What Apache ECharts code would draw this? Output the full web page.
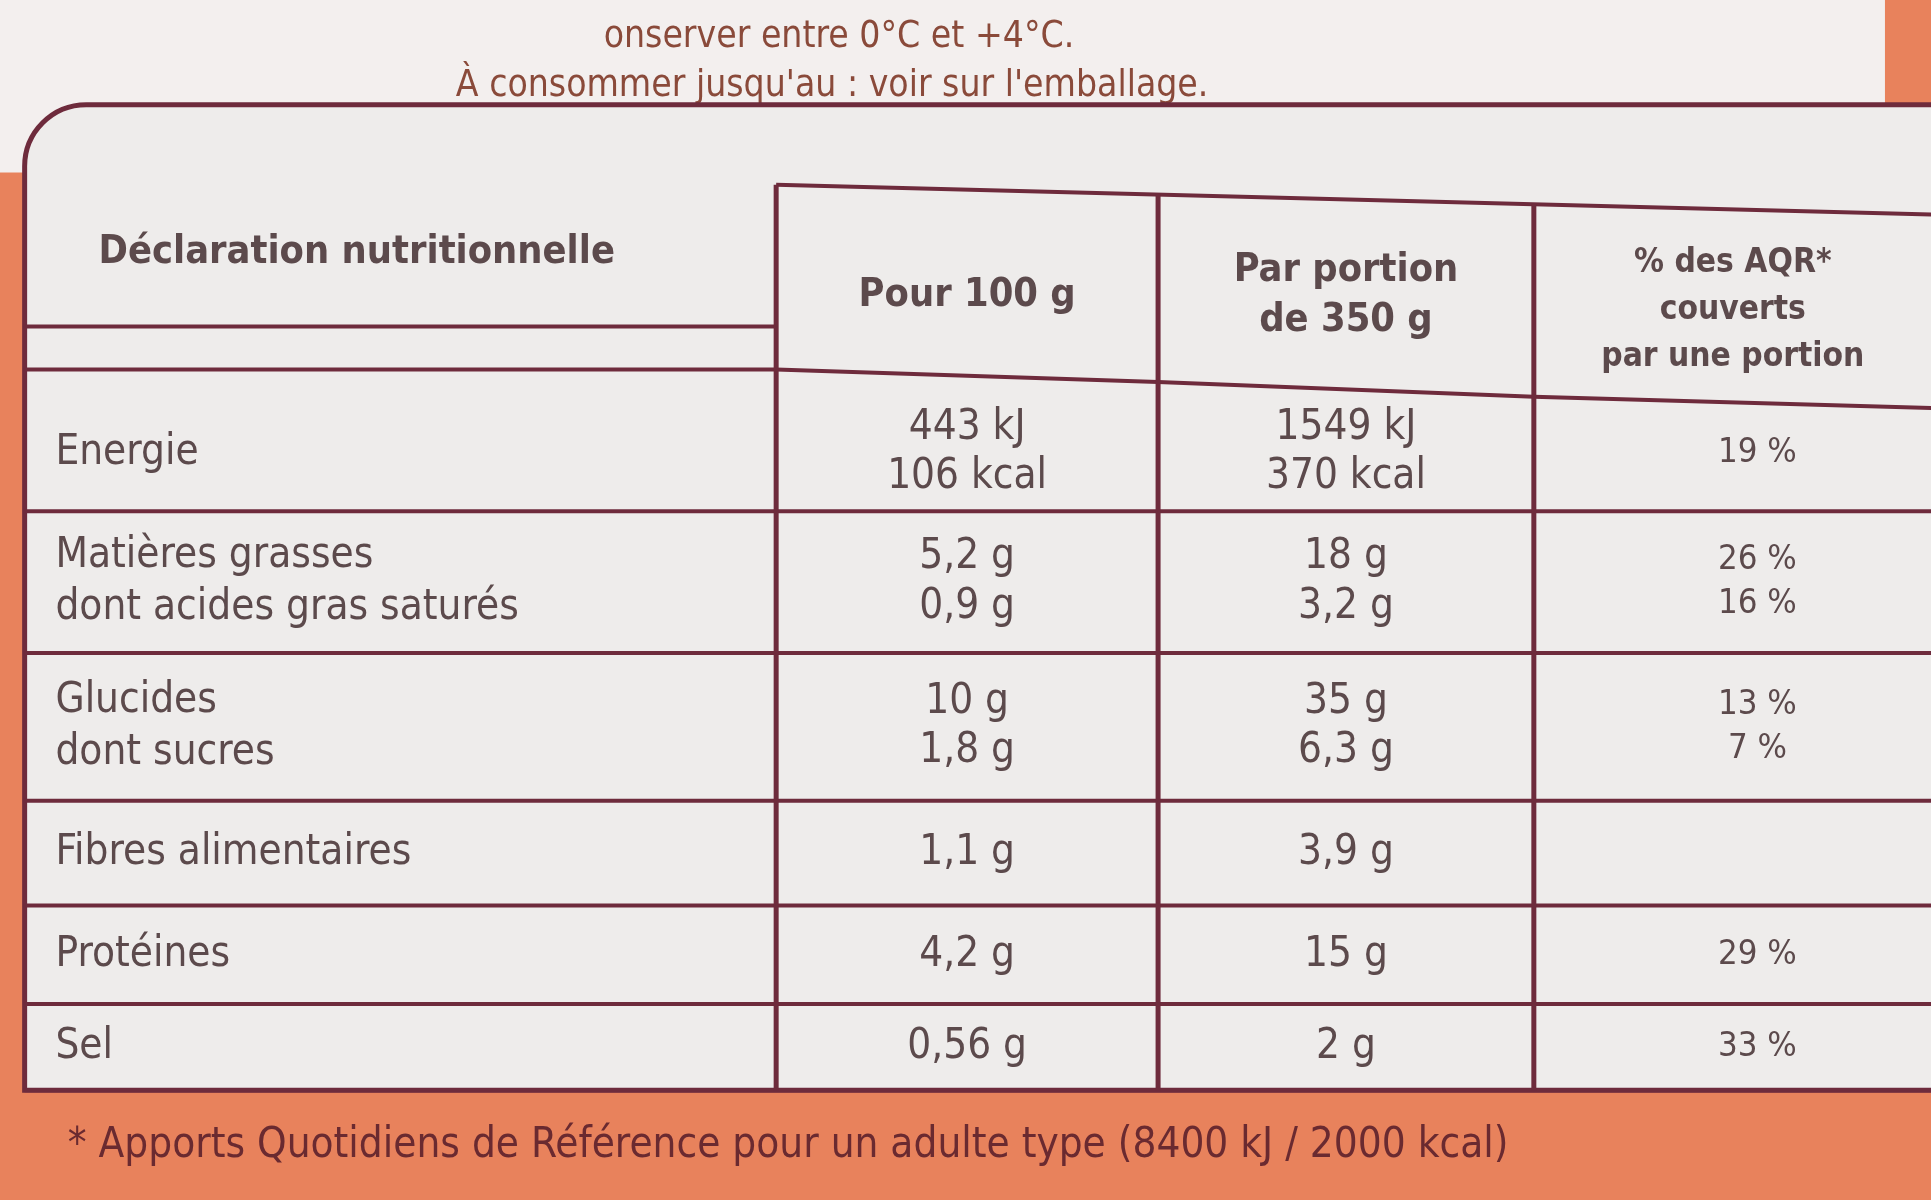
<!DOCTYPE html>
<html><head><meta charset="utf-8">
<script src="https://cdn.jsdelivr.net/npm/echarts@6/dist/echarts.min.js"></script>
<style>html,body{margin:0;padding:0;background:#e8825c}#c{width:1931px;height:1200px}</style>
</head><body><div id="c"></div>
<script>
const headers = ["Déclaration nutritionnelle", "Pour 100 g", "Par portion\nde 350 g", "% des AQR*\ncouverts\npar une portion"];
const nutrients = ["Energie", "Matières grasses\ndont acides gras saturés", "Glucides\ndont sucres", "Fibres alimentaires", "Protéines", "Sel"];
const per100 = ["443 kJ\n106 kcal", "5,2 g\n0,9 g", "10 g\n1,8 g", "1,1 g", "4,2 g", "0,56 g"];
const perPortion = ["1549 kJ\n370 kcal", "18 g\n3,2 g", "35 g\n6,3 g", "3,9 g", "15 g", "2 g"];
const aqr = ["19 %", "26 %\n16 %", "13 %\n7 %", "", "29 %", "33 %"];
const topNote = ["onserver entre 0°C et +4°C.", "À consommer jusqu'au : voir sur l'emballage."];
const footnote = "* Apports Quotidiens de Référence pour un adulte type (8400 kJ / 2000 kcal)";

const S = 1.232;
const colX = [20, 630, 940, 1245, 1568];
const rowY = [150, 300, 415, 530, 650, 735, 815, 885];
const ink = '#5c4a4c', line = '#6e2b3c';
const g = [];
g.push({type:'rect', shape:{x:-60*S, y:-40*S, width:1590*S, height:180*S, r:30*S}, style:{fill:'#f3efee'}});
g.push({type:'text', style:{x:490*S, y:15*S, text:topNote[0], font:`${30*S}px "DejaVu Sans Condensed"`, fill:'#8a4a3a'}});
g.push({type:'text', style:{x:370*S, y:55*S, text:topNote[1], font:`${30*S}px "DejaVu Sans Condensed"`, fill:'#8a4a3a'}});
g.push({type:'rect', shape:{x:20*S, y:85*S, width:1600*S, height:800*S, r:[50*S,0,0,0]}, style:{fill:'#eeeceb', stroke:line, lineWidth:5}});
rowY.forEach((y,i)=>{ if(i<2) return;
  g.push({type:'line', shape:{x1:20*S,y1:(y+ (i===2?0:0))*S,x2:1600*S,y2:(y+ (i===2?0:0))*S}, style:{stroke:line,lineWidth:4}});
});
// header bottom: straight under col 1, slanting across cols 2-4
g.push({type:'line', shape:{x1:20*S,y1:300*S,x2:colX[1]*S,y2:300*S}, style:{stroke:line,lineWidth:4}});
g.push({type:'polyline', shape:{points:[[colX[1]*S,300*S],[colX[2]*S,310*S],[colX[3]*S,322*S],[1600*S,332*S]]}, style:{stroke:line,lineWidth:4,fill:null}});
g.push({type:'line', shape:{x1:20*S,y1:265*S,x2:colX[1]*S,y2:265*S}, style:{stroke:line,lineWidth:4}});
g.push({type:'line', shape:{x1:colX[1]*S,y1:rowY[0]*S,x2:1600*S,y2:175*S}, style:{stroke:line,lineWidth:4}});
[1,2,3].forEach(c=> g.push({type:'line', shape:{x1:colX[c]*S,y1:(rowY[0]+ (c-1)*8)*S,x2:colX[c]*S,y2:885*S}, style:{stroke:line,lineWidth:5}}));
const font = (sz,b)=>`${b?'bold ':''}${sz*S}px "DejaVu Sans Condensed"`;
g.push({type:'text', style:{x:80*S, y:205*S, text:headers[0], font:font(32,true), fill:ink, verticalAlign:'middle'}});
[1,2,3].forEach(c=>{
  g.push({type:'text', style:{x:(colX[c]+colX[c+1])/2*S, y:(c===3?252:240)*S, text:headers[c], font:font(c===3?27:32,true), fill:ink, align:'center', verticalAlign:'middle', lineHeight:(c===3?38:40)*S}});
});
nutrients.forEach((n,i)=>{
  const yc = (rowY[i+1]+rowY[i+2])/2*S + (i===0?10*S:0);
  g.push({type:'text', style:{x:45*S, y:yc, text:n, font:font(34), fill:ink, verticalAlign:'middle', lineHeight:42*S}});
  [per100, perPortion, aqr].forEach((arr,k)=>{
    g.push({type:'text', style:{x:(colX[k+1]+colX[k+2])/2*S + (k===2?20*S:0), y:yc, text:arr[i], font:font(k===2?28:34), fill:ink, align:'center', verticalAlign:'middle', lineHeight:(k===2?36:40)*S}});
  });
});
g.push({type:'text', style:{x:55*S, y:930*S, text:footnote, font:font(34), fill:'#6a2a30', verticalAlign:'middle'}});
const chart = echarts.init(document.getElementById('c'));
chart.setOption({backgroundColor:'#e8825c', graphic:g});
</script></body></html>
